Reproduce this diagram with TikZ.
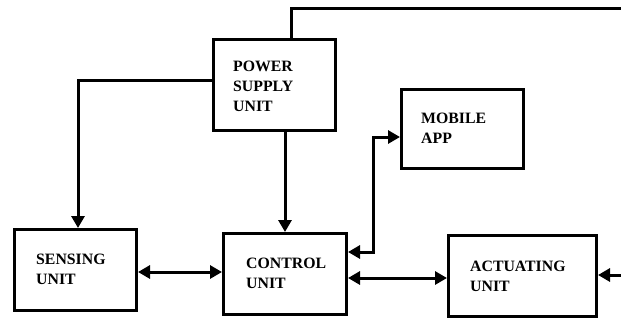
\documentclass[tikz,border=0pt]{standalone}
\usepackage{fontspec}
\setmainfont{Liberation Serif}
\usetikzlibrary{arrows.meta}
\begin{document}
\begin{tikzpicture}[x=1pt,y=-1pt,
  lw/.style={line width=3pt},
  blk/.style={draw, lw, rectangle, inner sep=0pt},
  lbl/.style={anchor=base west, inner sep=0pt, font=\bfseries\fontsize{15.8}{20}\selectfont,
              align=left},
  wire/.style={lw, line cap=rect, line join=miter},
  arr/.style={lw, -{Triangle[length=12pt,width=13pt]}},
  darr/.style={lw, {Triangle[length=12pt,width=13pt]}-{Triangle[length=12pt,width=13pt]}}]
  \useasboundingbox[fill=white] (0,0) rectangle (621,322);

  % blocks (outer edge sizes minus the border)
  \node[blk, minimum width=122pt, minimum height=91pt] (pwr) at (274.5,85) {};
  \node[blk, minimum width=122pt, minimum height=79pt] (mob) at (462.5,129) {};
  \node[blk, minimum width=122pt, minimum height=81pt] (sen) at (75.5,270) {};
  \node[blk, minimum width=123pt, minimum height=81pt] (ctl) at (285,274) {};
  \node[blk, minimum width=148pt, minimum height=81pt] (act) at (522.5,276) {};

  % block captions (anchored on the baseline of the last line)
  \node[lbl] (tpwr) at (233,111) {POWER\\SUPPLY\\UNIT};
  \node[lbl] (tmob) at (421,143) {MOBILE\\APP};
  \node[lbl] (tsen) at (36,284) {SENSING\\UNIT};
  \node[lbl] (tctl) at (246,288) {CONTROL\\UNIT};
  \node[lbl] (tact) at (470,291) {ACTUATING\\UNIT};

  % supply line leaving to the right edge
  \coordinate (feed) at (291,8);
  \coordinate (edgeTop) at (623,8);
  \draw[wire] (pwr.north -| feed) -- (feed) -- (edgeTop);

  % supply to sensing and control
  \draw[arr, line join=miter] ([yshift=5pt]pwr.west) -| ([xshift=2.5pt]sen.north);
  \draw[arr] (pwr.south -| ctl.north) -- (ctl.north);

  % sensing <-> control
  \draw[darr] ([yshift=-2pt]sen.east) -- ([yshift=-2pt]sen.east -| ctl.west);

  % control <-> mobile app
  \draw[darr, line join=miter] ([yshift=22pt]ctl.east) -- ++(25,0) |- ([yshift=-8pt]mob.west);

  % control <-> actuating
  \draw[darr] ([yshift=-4pt]ctl.east) -- ([yshift=-4pt]ctl.east -| act.west);

  % feed into actuating from the right edge
  \coordinate (edgeIn) at (623,275);
  \draw[arr] (edgeIn) -- (edgeIn -| act.east);
\end{tikzpicture}
\end{document}
